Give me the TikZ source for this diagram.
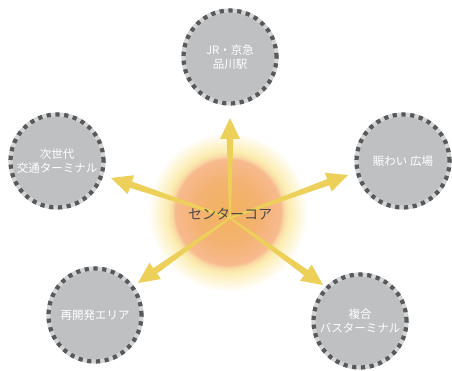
\documentclass[tikz,border=0pt]{standalone}
\usepackage{fontspec}
\setmainfont{Noto Sans CJK JP}
\usetikzlibrary{calc}
\definecolor{spotgray}{HTML}{BFC0C2}
\definecolor{ringgray}{HTML}{D3D4D6}
\definecolor{dotgray}{HTML}{58595B}
\definecolor{arrowyel}{HTML}{ECD05A}
\definecolor{coreorg}{HTML}{F2B25C}
\definecolor{coremid}{HTML}{F4B272}
\definecolor{corepeach}{HTML}{F7BA8E}
\definecolor{glowedge}{HTML}{F9D9A4}
\definecolor{glowyel}{HTML}{FCEDB2}
\definecolor{coretext}{HTML}{4A4A4C}
\pgfdeclareradialshading{coreglow}{\pgfpoint{0bp}{0bp}}{%
  color(0bp)=(coreorg); color(10bp)=(coremid); color(16.5bp)=(corepeach);
  color(17.5bp)=(glowedge); color(19bp)=(glowyel); color(25bp)=(white); color(50bp)=(white)}
\tikzset{
  spot/.style={circle, minimum size=93pt, inner sep=0pt, fill=spotgray,
    draw=ringgray, line width=4.2pt,
    postaction={draw=dotgray, line width=4.2pt, dash pattern=on 4.2pt off 4.6pt},
    text=white, align=center, font=\fontsize{11.5}{13.5}\selectfont},
}
\newcommand{\corearrow}[2]{%
  % #1=start, #2=tip
  \fill[arrowyel] let \p1=($(#2)-(#1)$), \n1={atan2(\y1,\x1)}, \n2={veclen(\x1,\y1)} in
    [shift={(#1)}, rotate=\n1]
    (0,-0.8) -- (\n2-21,-3.3) -- (\n2-21,-10) -- (\n2,0) -- (\n2-21,10) -- (\n2-21,3.3) -- (0,0.8) -- cycle;
}

\begin{document}
\begin{tikzpicture}[x=1pt, y=-1pt]
\useasboundingbox (0,0) rectangle (452,371);

% Glow behind the core
\shade[shading=coreglow] (228,212) circle [radius=80];

% Outer spots
\node[spot] (station) at (230,57) {JR・京急\\品川駅};
\node[spot] (terminal) at (57,161) {次世代\\交通ターミナル};
\node[spot] (plaza) at (403,161) {賑わい 広場};
\node[spot] (redev) at (95,315) {再開発エリア};
\node[spot] (bus) at (360,321) {複合\\バスターミナル};

% Arrows from the core
\coordinate (hub) at (230,218);
\coordinate (tipN) at (230,118);
\coordinate (tipW) at (111,178);
\coordinate (tipE) at (348,175);
\coordinate (tipSW) at (138,283);
\coordinate (tipSE) at (323,285);
\corearrow{hub}{tipN}
\corearrow{hub}{tipW}
\corearrow{hub}{tipE}
\corearrow{hub}{tipSW}
\corearrow{hub}{tipSE}

% Core label
\node[text=coretext, font=\fontsize{14}{16}\selectfont] (core) at (230,214) {センターコア};

\end{tikzpicture}
\end{document}
